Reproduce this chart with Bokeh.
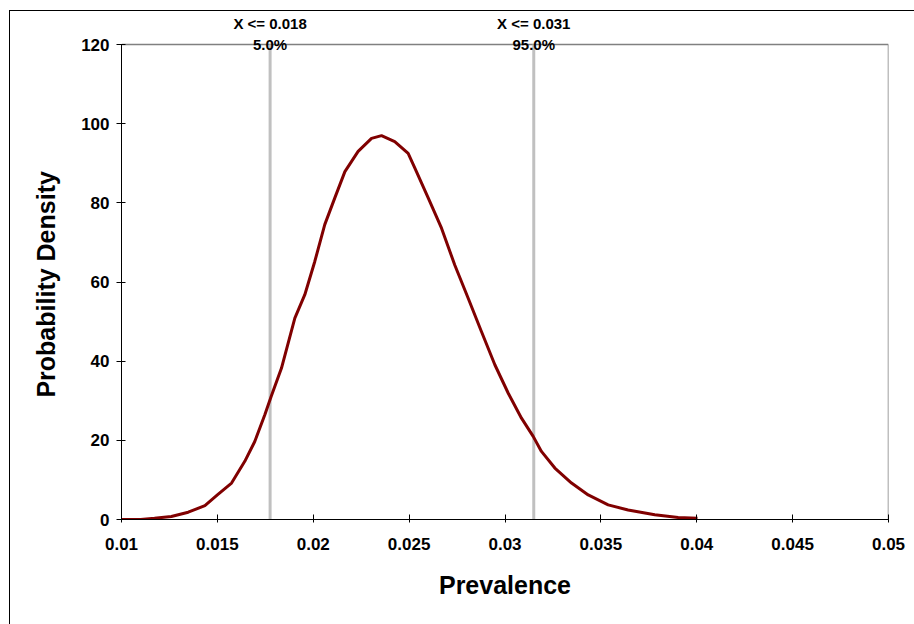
from bokeh.plotting import figure
from bokeh.models import Range1d, FixedTicker, CustomJSTickFormatter
from bokeh.core.properties import value
from bokeh.embed import file_html
from bokeh.resources import INLINE

# ---- data ----
prevalence = [0.0100, 0.0110, 0.01172, 0.0126, 0.01348, 0.01435, 0.0150, 0.01574,
              0.01643, 0.01695, 0.01747, 0.01780, 0.01834, 0.01904, 0.01956, 0.02008,
              0.0206, 0.02112, 0.02165, 0.02234, 0.02304, 0.02356, 0.02425, 0.02495,
              0.0253, 0.026, 0.02669, 0.02738, 0.02808, 0.02877, 0.02947, 0.03017,
              0.03086, 0.03147, 0.0319, 0.0326, 0.03347, 0.03434, 0.03538, 0.03642,
              0.03781, 0.03903, 0.04004]
density = [0, 0, 0.3, 0.75, 1.85, 3.5, 6.2, 9.2,
           14.7, 19.7, 26.4, 31.0, 38.2, 50.9, 56.8, 65.2,
           74.5, 81.2, 87.9, 93.0, 96.3, 97.0, 95.5, 92.5,
           88.8, 81.2, 73.6, 64.3, 55.9, 47.5, 39.1, 31.9,
           25.6, 21.0, 17.2, 13.0, 9.2, 6.2, 3.7, 2.4,
           1.2, 0.5, 0.3]

cutoffs = [0.01775, 0.0315]
cutoff_labels = ["X <= 0.018", "X <= 0.031"]
cutoff_pcts = ["5.0%", "95.0%"]

x_min, x_max = 0.01, 0.05
y_min, y_max = 0, 120
x_ticks = [0.01, 0.015, 0.02, 0.025, 0.03, 0.035, 0.04, 0.045, 0.05]
y_ticks = [0, 20, 40, 60, 80, 100, 120]

FONT = "Liberation Sans"

# frame extends a little above y=120 so the cutoff captions can sit there
p = figure(width=905, height=614, output_backend="svg", toolbar_location=None,
           x_range=Range1d(x_min, x_max), y_range=Range1d(y_min, 127.6),
           min_border_left=111, min_border_right=27, min_border_top=3,
           min_border_bottom=106)
p.styles = {"border-left": "1px solid black", "border-top": "1px solid black",
            "margin-left": "9px", "margin-top": "10px"}

p.background_fill_color = "white"
p.border_fill_color = "white"
p.outline_line_color = None
p.xgrid.visible = False
p.ygrid.visible = False

# grey plot-area border (top and right)
p.segment(x0=[x_min, x_max], y0=[y_max, y_min], x1=[x_max, x_max], y1=[y_max, y_max],
          line_color="#808080", line_width=1.5)

# vertical cutoff lines
p.segment(x0=cutoffs, y0=[y_min] * len(cutoffs), x1=cutoffs, y1=[y_max] * len(cutoffs),
          line_color="#C0C0C0", line_width=3)

p.line(prevalence, density, line_color="#800000", line_width=3)

p.text(x=cutoffs, y=[125.2] * len(cutoffs), text=cutoff_labels,
       text_align="center", text_baseline="middle",
       text_font=value(FONT), text_font_style="bold", text_font_size="15px",
       text_color="black")
p.text(x=cutoffs, y=[y_max] * len(cutoffs), text=cutoff_pcts,
       text_align="center", text_baseline="middle",
       text_font=value(FONT), text_font_style="bold", text_font_size="15px",
       text_color="black")

# x axis
xa = p.xaxis[0]
xa.ticker = FixedTicker(ticks=x_ticks)
xa.formatter = CustomJSTickFormatter(code="return parseFloat(tick.toFixed(4)).toString();")
xa.axis_label = "Prevalence"
xa.axis_label_text_font = FONT
xa.axis_label_text_font_style = "bold"
xa.axis_label_text_font_size = "25px"
xa.axis_label_text_color = "black"
xa.axis_label_standoff = 18
xa.major_label_text_font = FONT
xa.major_label_text_font_style = "bold"
xa.major_label_text_font_size = "17px"
xa.major_label_text_color = "black"
xa.major_label_standoff = 15
xa.major_tick_in = 5
xa.major_tick_out = 3
xa.minor_tick_line_color = None
xa.axis_line_color = "black"
xa.major_tick_line_color = "black"

# y axis
ya = p.yaxis[0]
ya.ticker = FixedTicker(ticks=y_ticks)
ya.bounds = (y_min, y_max)
ya.axis_label = "Probability Density" + "\u00a0" * 5
ya.axis_label_text_font = FONT
ya.axis_label_text_font_style = "bold"
ya.axis_label_text_font_size = "25px"
ya.axis_label_text_color = "black"
ya.axis_label_standoff = 18
ya.major_label_text_font = FONT
ya.major_label_text_font_style = "bold"
ya.major_label_text_font_size = "17px"
ya.major_label_text_color = "black"
ya.major_label_standoff = 7
ya.major_tick_in = 4
ya.major_tick_out = 5
ya.minor_tick_line_color = None
ya.axis_line_color = "black"
ya.major_tick_line_color = "black"

open("out.html", "w").write(file_html(p, INLINE))
